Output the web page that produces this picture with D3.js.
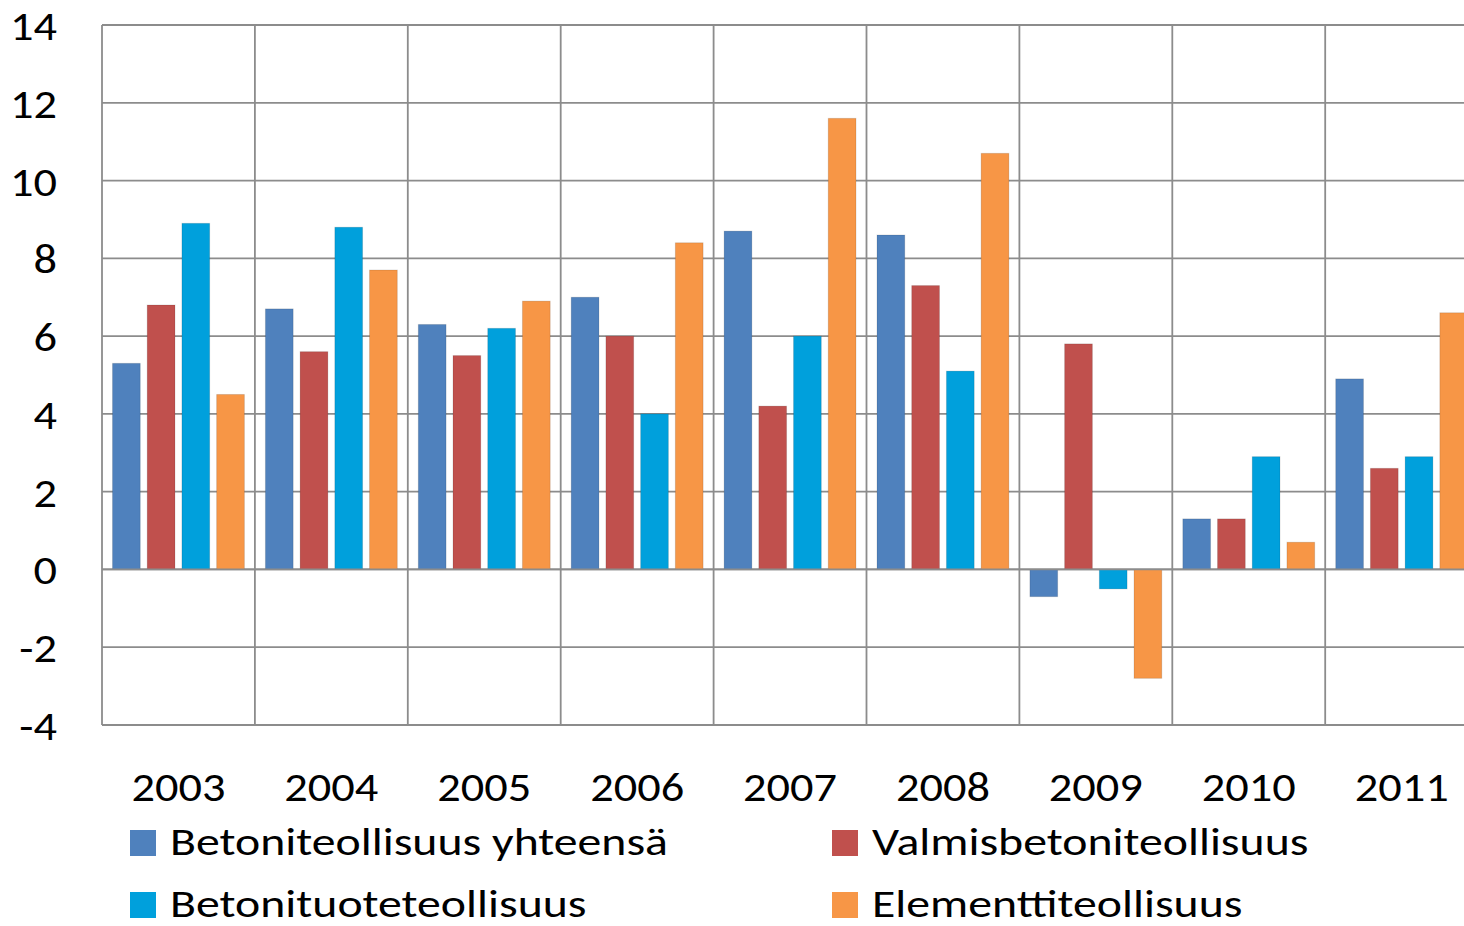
<!DOCTYPE html>
<html><head><meta charset="utf-8">
<script src="https://cdn.jsdelivr.net/npm/d3@7"></script>
<style>html,body{margin:0;padding:0;background:#fff;}svg{display:block;}</style>
</head><body>
<svg id="c" width="1464" height="926"></svg>
<script>
const years = ["2003","2004","2005","2006","2007","2008","2009","2010","2011"];
const seriesNames = ["Betoniteollisuus yhteensä","Valmisbetoniteollisuus","Betonituoteteollisuus","Elementtiteollisuus"];
const colors = ["#4F81BD","#C0504D","#00A0DC","#F79646"];
const betoniYhteensa = [5.3,6.7,6.3,7.0,8.7,8.6,-0.7,1.3,4.9];
const valmisbetoni   = [6.8,5.6,5.5,6.0,4.2,7.3,5.8,1.3,2.6];
const betonituote    = [8.9,8.8,6.2,4.0,6.0,5.1,-0.5,2.9,2.9];
const elementti      = [4.5,7.7,6.9,8.4,11.6,10.7,-2.8,0.7,6.6];
const yTicks = [-4,-2,0,2,4,6,8,10,12,14];
const allSeries = [betoniYhteensa, valmisbetoni, betonituote, elementti];

const font = "Carlito, Lato, 'Liberation Sans', sans-serif";
const svg = d3.select("#c");
const plotL = 102, plotT = 25, plotB = 725, bandW = 152.9;
const x = d3.scaleBand().domain(years).range([plotL, plotL + bandW*years.length]).paddingInner(0).paddingOuter(0);
const xi = d3.scaleBand().domain(d3.range(4)).range([10.5, bandW-10.5]).paddingInner(0.2).paddingOuter(0);
const y = d3.scaleLinear().domain([-4,14]).range([plotB, plotT]);

const gridCol = "#8c8c8c";
const grid = svg.append("g");
grid.selectAll("line.h").data(yTicks).join("line")
  .attr("x1", plotL).attr("x2", 1464).attr("y1", d=>y(d)).attr("y2", d=>y(d))
  .attr("stroke", gridCol).attr("stroke-width", 1.8);
grid.selectAll("line.v").data(years).join("line")
  .attr("x1", d=>x(d)).attr("x2", d=>x(d)).attr("y1", plotT).attr("y2", plotB)
  .attr("stroke", gridCol).attr("stroke-width", 1.8);

const bars = svg.append("g");
allSeries.forEach((vals, si) => {
  bars.selectAll(null).data(vals).join("rect")
    .attr("x", (d,i)=> x(years[i]) + xi(si))
    .attr("width", xi.bandwidth())
    .attr("y", d => y(Math.max(0,d)))
    .attr("height", d => Math.abs(y(d)-y(0)))
    .attr("fill", colors[si])
    .attr("stroke", "rgba(0,0,0,0.12)").attr("stroke-width", 1);
});
svg.append("line").attr("x1", plotL).attr("x2", 1464).attr("y1", y(0)).attr("y2", y(0))
  .attr("stroke", gridCol).attr("stroke-width", 1.8);

function stretch(sel, factor){
  sel.each(function(){
    const w = this.getComputedTextLength();
    d3.select(this).attr("textLength", w*factor).attr("lengthAdjust","spacingAndGlyphs");
  });
}

const numSize = 42;
const ticks = svg.append("g").selectAll("text").data(yTicks).join("text")
  .attr("x", 57).attr("y", d=>y(d)+15)
  .attr("text-anchor","end").attr("font-family", font).attr("font-size", numSize).attr("fill","#000")
  .text(d=>d);

const yrs = svg.append("g").selectAll("text").data(years).join("text")
  .attr("x", d=>x(d)+bandW/2).attr("y", 801)
  .attr("text-anchor","middle").attr("font-family", font).attr("font-size", numSize).attr("fill","#000")
  .text(d=>d);
const yrFactor = 94 / yrs.node().getComputedTextLength();
stretch(yrs, yrFactor);
stretch(ticks, yrFactor);

const legPos = [[130,830],[832,830],[130,892],[832,892]];
const leg = svg.append("g");
const legTexts = [];
seriesNames.forEach((n,i)=>{
  const [lx,ly] = legPos[i];
  leg.append("rect").attr("x", lx).attr("y", ly).attr("width", 26).attr("height", 26).attr("fill", colors[i]);
  legTexts.push(leg.append("text").attr("x", lx+40).attr("y", ly+25).attr("font-family", font).attr("font-size", 38).attr("fill","#000").text(n).node());
});
const legFactor = 498 / legTexts[0].getComputedTextLength();
stretch(d3.selectAll(legTexts), legFactor);
</script>
</body></html>
